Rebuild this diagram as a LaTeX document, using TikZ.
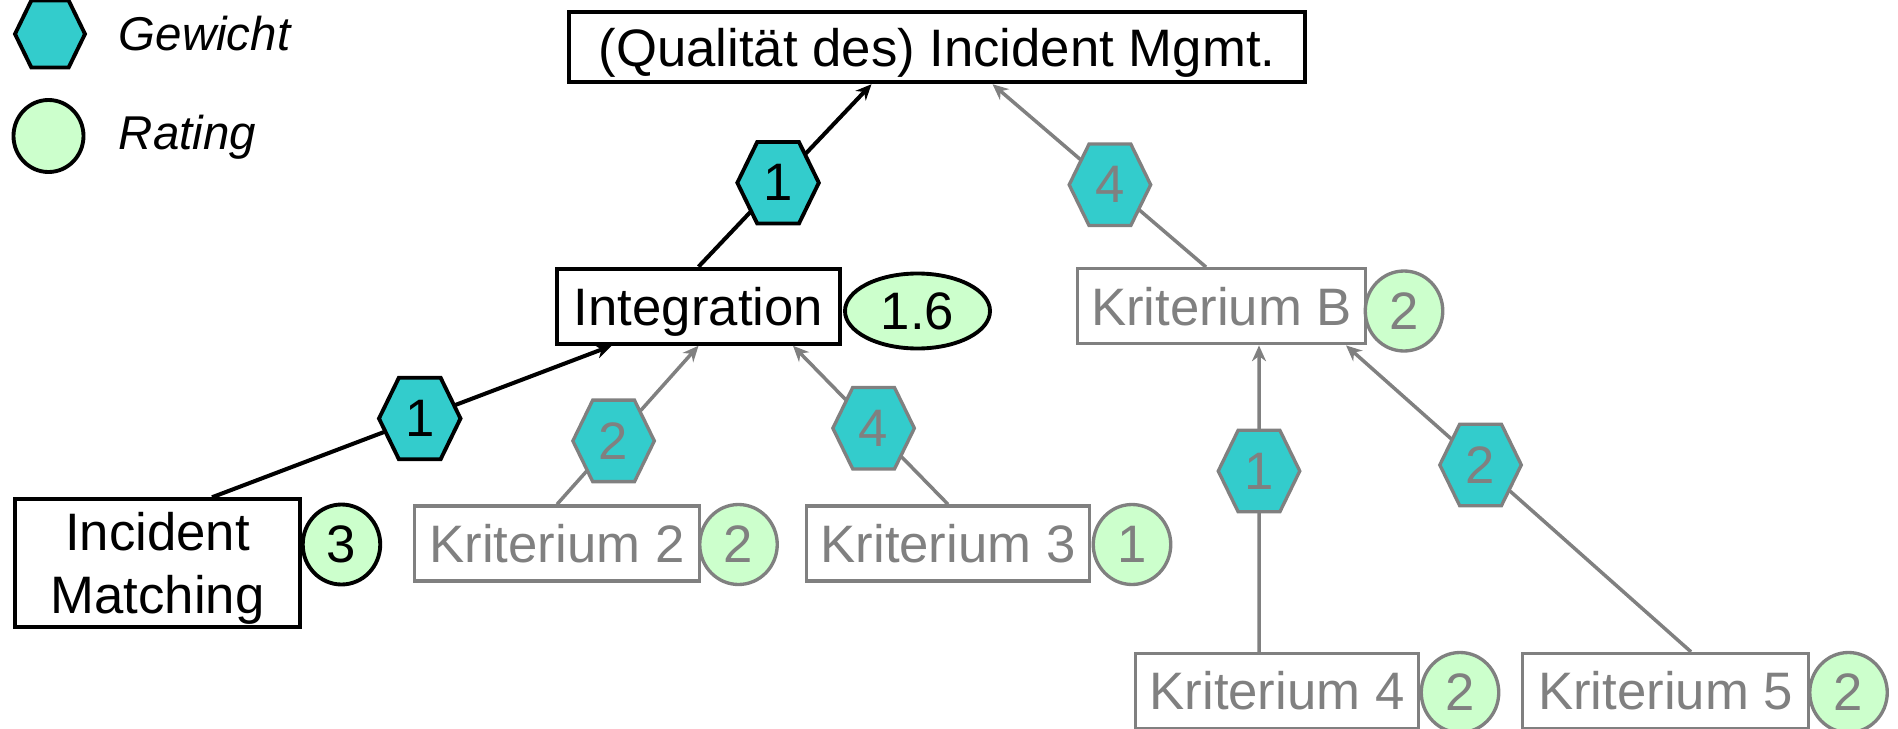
\documentclass[tikz,border=0pt]{standalone}
\usepackage{fontspec}
\setmainfont{Liberation Sans}
\usetikzlibrary{positioning, shapes.geometric, shapes.symbols, arrows.meta}
\definecolor{weightfill}{HTML}{33CCCC}
\definecolor{scorefill}{HTML}{CCFFCC}
\definecolor{dim}{HTML}{808080}

\tikzset{
  crit/.style={rectangle, draw=black, fill=white, line width=2.3pt, minimum height=1.5cm, inner sep=0pt, align=center, text height=29pt, text depth=7.5pt},
  critdim/.style={crit, draw=dim, text=dim, line width=1.9pt},
  wt/.style={signal, signal to=west and east, signal pointer angle=128, draw=black, fill=weightfill, line width=2.2pt, minimum width=1.63cm, minimum height=1.63cm, inner sep=0pt},
  wtdim/.style={wt, draw=dim, text=dim, line width=1.9pt},
  score/.style={ellipse, draw=black, fill=scorefill, line width=2.2pt, minimum width=1.55cm, minimum height=1.6cm, inner sep=0pt},
  scoredim/.style={score, draw=dim, text=dim, line width=1.9pt},
  link/.style={draw=black, line width=2.3pt, -{Stealth[length=9pt, width=8pt]}},
  linkdim/.style={link, draw=dim, line width=2pt},
  legend/.style={anchor=west, inner sep=0pt, font=\fontsize{27}{32}\selectfont\itshape}
}

\begin{document}
\begin{tikzpicture}[font=\fontsize{30}{36}\selectfont]
  \useasboundingbox (0,0) rectangle (37.96,-14.58);

  % legend
  \node[wt, minimum width=1.4cm, minimum height=1.34cm] (lgw) at (1.0,-0.68) {};
  \node[legend] (lgwt) at (2.37,-0.67) {Gewicht};
  \node[score, minimum width=1.4cm, minimum height=1.44cm] (lgs) at (0.97,-2.72) {};
  \node[legend] (lgst) at (2.37,-2.74) {Rating};

  % boxes
  \node[crit, minimum width=14.72cm, minimum height=1.4cm] (top) at (18.74,-0.944) {(Qualität des) Incident Mgmt.};
  \node[crit, minimum width=5.66cm] (int) at (13.97,-6.125) {Integration};
  \node[score, minimum width=2.9cm, minimum height=1.5cm] (rint) at (18.35,-6.22) {1.6};
  \node[critdim, minimum width=5.76cm] (kb) at (24.43,-6.125) {Kriterium B};
  \node[scoredim] (rkb) at (28.08,-6.22) {2};

  \node[crit, minimum width=5.71cm, minimum height=2.42cm, text height=65pt] (im) at (3.15,-11.26) {Incident\\Matching};
  \node[score] (rim) at (6.83,-10.89) {3};
  \node[critdim, minimum width=5.71cm] (k2) at (11.14,-10.87) {Kriterium 2};
  \node[scoredim] (rk2) at (14.77,-10.89) {2};
  \node[critdim, minimum width=5.67cm] (k3) at (18.96,-10.87) {Kriterium 3};
  \node[scoredim] (rk3) at (22.64,-10.89) {1};

  \node[critdim, minimum width=5.67cm] (k4) at (25.54,-13.82) {Kriterium 4};
  \node[scoredim] (rk4) at (29.20,-13.85) {2};
  \node[critdim, minimum width=5.71cm] (k5) at (33.31,-13.82) {Kriterium 5};
  \node[scoredim] (rk5) at (36.97,-13.85) {2};

  % weighted links
  \draw[link] (int.north) -- node[wt, pos=.46] (w1) {1} ([xshift=-1.31cm]top.south);
  \draw[linkdim] ([xshift=-0.31cm]kb.north) -- node[wtdim, pos=.45] (w2) {4} ([xshift=1.11cm]top.south);
  \draw[link] ([xshift=1.09cm]im.north) -- node[wt, pos=.52] (w3) {1} ([xshift=-1.74cm]int.south);
  \draw[linkdim] (k2.north) -- node[wtdim, pos=.4] (w4) {2} (int.south);
  \draw[linkdim] (k3.north) -- node[wtdim, pos=.48] (w5) {4} ([xshift=1.89cm]int.south);
  \draw[linkdim] ([xshift=-0.36cm]k4.north) -- node[wtdim, pos=.59] (w6) {1} ([xshift=0.75cm]kb.south);
  \draw[linkdim] ([xshift=0.51cm]k5.north) -- node[wtdim, pos=.61] (w7) {2} ([xshift=2.49cm]kb.south);
\end{tikzpicture}
\end{document}
